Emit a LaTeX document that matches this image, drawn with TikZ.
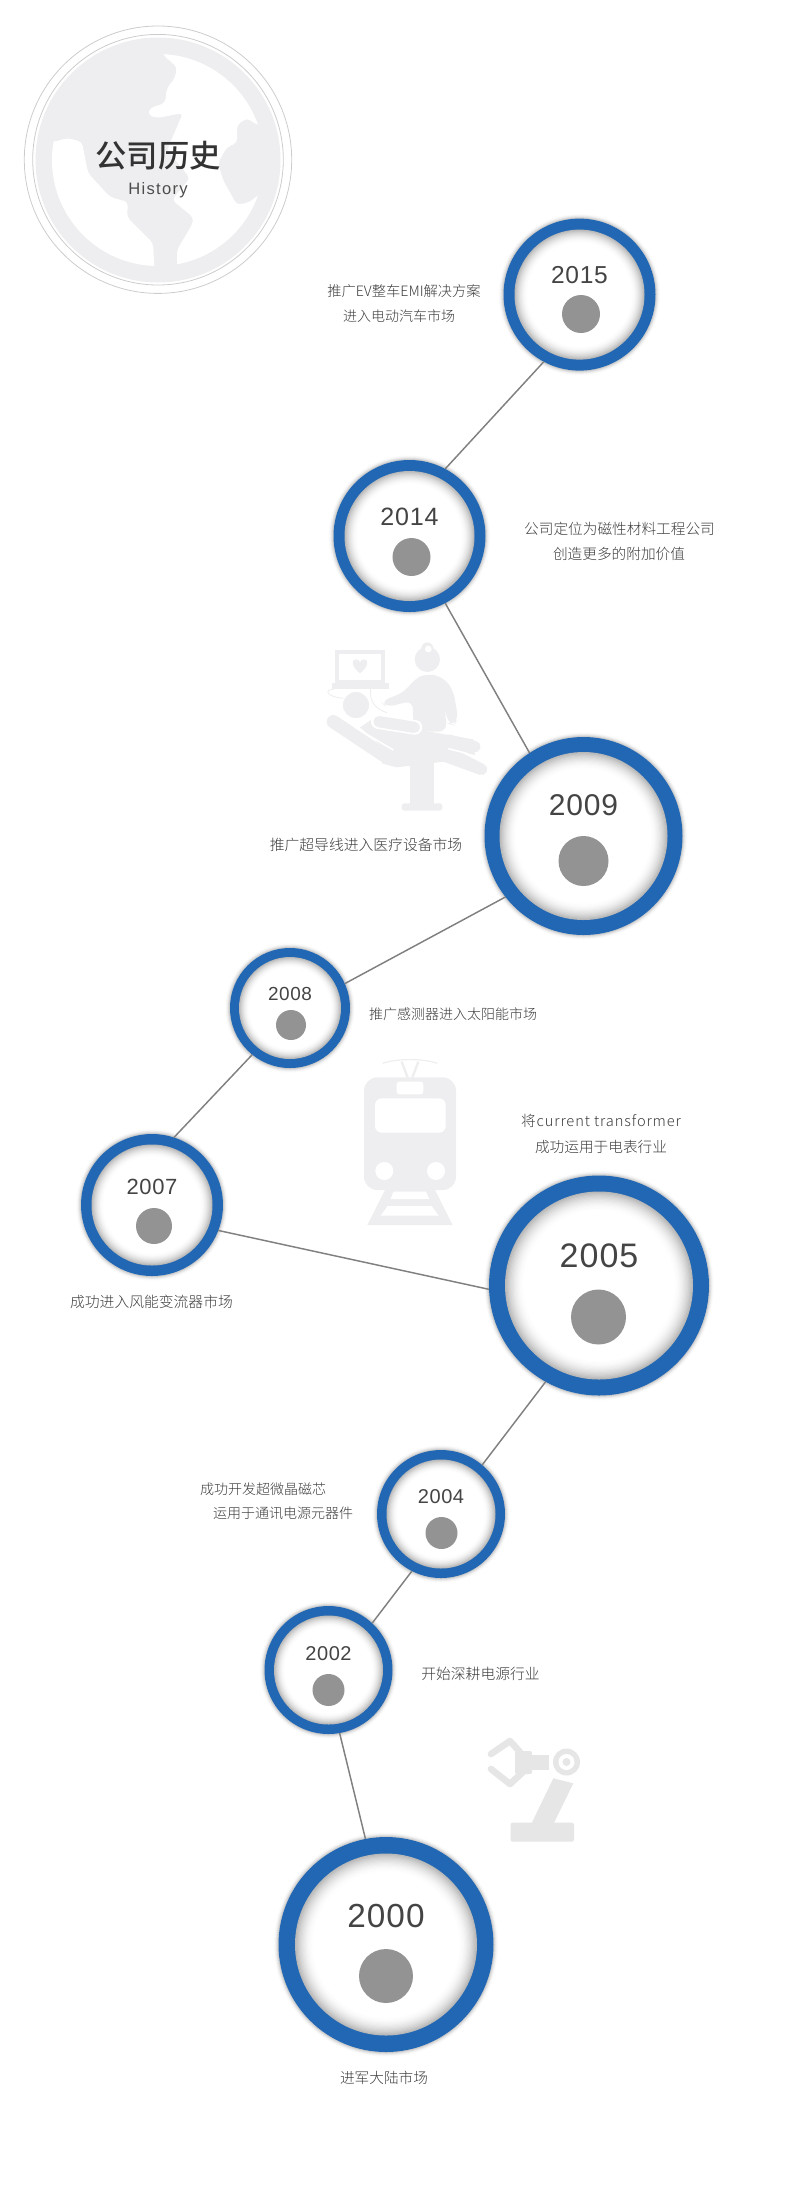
\documentclass[tikz,border=0pt]{standalone}
\usepackage{fontspec}
\setmainfont{Liberation Sans}
\newfontfamily\cjk{Noto Sans CJK SC Light}
\newfontfamily\cjktitle{Noto Sans CJK SC Medium}
\newfontfamily\cjkspaced[LetterSpace=6]{Noto Sans CJK SC Light}
\newfontfamily\yearfont[LetterSpace=3]{Liberation Sans}
\newfontfamily\histfont[LetterSpace=8]{Liberation Sans}
\definecolor{ringblue}{HTML}{2267B3}
\definecolor{dotgray}{HTML}{939393}
\definecolor{linegray}{HTML}{808080}
\definecolor{labelc}{HTML}{3C3C3C}
\definecolor{yearc}{HTML}{444444}
\definecolor{pale}{HTML}{EEEEF0}
\definecolor{palerobot}{HTML}{E6E6E6}
\definecolor{ringline}{HTML}{CCCCCC}
\newcommand{\lbl}[1]{\cjk\fontsize{#1}{#1}\selectfont}
\tikzset{
  ringnode/.style={circle,fill=ringblue,inner sep=0pt,outer sep=0pt},
  dotnode/.style={circle,fill=dotgray,inner sep=0pt,outer sep=0pt},
  yearnode/.style={inner sep=0pt,text=yearc},
  lab/.style={inner sep=0pt,text=labelc,font=\lbl{#1}},
  connector/.style={draw=linegray,line width=1.1pt},
  thinring/.style={draw=ringline,line width=0.6pt},
}
% year, cx, cy, R, r, text y, dot x and y, dot r, font pt
\newcommand{\yearring}[9]{%
  \foreach \i in {5,...,1}{
    \pgfmathsetmacro{\v}{20*((6-\i)/5)^2}
    \fill[black!\v!white] (#2,#3) circle[radius=(#4+\i)*0.75pt];
  }
  \node[ringnode,minimum size=#4*1.5pt] (c#1) at (#2,#3) {};
  \foreach \i in {0,...,15}{
    \pgfmathsetmacro{\v}{28*((16-\i)/16)^2}
    \fill[black!\v!white] (#2,#3) circle[radius=(#5-\i*#5*0.013)*0.75pt];
  }
  \node[dotnode,minimum size=#8*1.5pt] (d#1) at (#7) {};
  \node[yearnode,font=\yearfont\fontsize{#9}{#9}\selectfont] (y#1) at (#2,#6) {#1};
}
\begin{document}
\begin{tikzpicture}[x=0.75pt,y=-0.75pt]
\useasboundingbox (0,0) rectangle (785,2200);
% globe
\fill[pale] (158,160) circle[radius=122.5*0.75pt];
\begin{scope}
  \clip (158,160) circle[radius=106*0.75pt];
  \fill[white,rounded corners=3pt] (40,142) -- (53,142) -- (68,138) -- (82,142) -- (88,173) -- (110,197) -- (128,202) -- (127,217) -- (153,243) -- (155,280) -- (40,280) -- cycle;
  \fill[white,rounded corners=3pt] (163,40) -- (163,55) -- (177,67) -- (175,78) -- (167,88) -- (165,103) -- (150,108) -- (148,115) -- (157,118) -- (183,113) -- (167,150) -- (190,178) -- (172,200) -- (193,217) -- (193,223) -- (177,250) -- (177,285) -- (290,285) -- (290,192) -- (258,195) -- (250,202) -- (237,205) -- (223,180) -- (218,163) -- (227,147) -- (237,143) -- (237,125) -- (247,118) -- (257,125) -- (290,125) -- (290,40) -- cycle;
\end{scope}
\node[circle,thinring,minimum size=267.4*0.75pt,inner sep=0pt] (globeouter) at (158,159.7) {};
\node[circle,thinring,minimum size=250.6*0.75pt,inner sep=0pt] (globeinner) at (158,159.7) {};
\node[inner sep=0pt,text=black!80,font=\cjktitle\fontsize{23.5}{23.5}\selectfont] (title) at (158,156) {公司历史};
\node[inner sep=0pt,text=black!70,font=\histfont\fontsize{12.4}{12.4}\selectfont] (history) at (158,190) {History};

% doctor
\begin{scope}[shift={(310,640)},x=0.25pt,y=-0.25pt]
  \fill[pale] (75,30) rectangle (225,128);
  \fill[white] (88,42) rectangle (212,120);
  \fill[pale] (65,128) rectangle (238,147);
  \fill[pale] (150,100) .. controls (125,80) and (122,58) .. (138,58) .. controls (145,58) and (150,64) .. (150,68) .. controls (150,64) and (155,58) .. (162,58) .. controls (178,58) and (175,80) .. (150,100) -- cycle;
  \draw[pale,line width=0.7pt] (72,147) .. controls (40,150) and (50,170) .. (100,175);
  \draw[pale,line width=0.7pt] (182,147) .. controls (178,185) and (195,205) .. (230,218);
  \fill[pale] (352,25) circle[radius=18*0.25pt];
  \fill[pale] (352,58) circle[radius=38*0.25pt];
  \fill[white] (355,27) circle[radius=10*0.25pt];
  \fill[pale,rounded corners=6pt] (350,100) -- (400,112) -- (430,150) -- (445,240) -- (430,256) -- (413,250) -- (405,200) -- (410,275) -- (310,275) -- (308,182) -- (228,202) -- (212,185) -- (285,155) -- (312,118) -- cycle;
  % chair and patient
  \draw[pale,line width=10pt,line cap=round] (70,245) -- (235,355);
  \fill[pale] (150,262) -- (190,235) -- (330,270) -- (490,298) -- (495,345) -- (415,325) -- (520,372) -- (510,405) -- (400,365) -- (260,382) -- (215,370) -- (240,340) -- cycle;
  \draw[pale,line width=8.5pt,line cap=round] (415,300) -- (495,320);
  \draw[pale,line width=8.5pt,line cap=round] (430,345) -- (515,388);
  \draw[white,line width=1.2pt] (135,240) -- (135,262) -- (250,330);
  \draw[white,line width=1.2pt] (415,326) -- (470,340);
  \draw[white,line width=11pt,line cap=round] (205,245) -- (315,262);
  \draw[pale,line width=8.5pt,line cap=round] (207,245) -- (313,262);
  \fill[pale,draw=white,line width=0.8pt] (138,195) circle[radius=41*0.25pt];
  \fill[pale] (300,370) rectangle (372,495);
  \fill[pale,rounded corners=2pt] (275,490) rectangle (397,512);
\end{scope}

% train
\begin{scope}[shift={(340,1050)},x=0.25pt,y=-0.25pt]
  \draw[pale,line width=0.9pt] (128,40) .. controls (170,25) and (250,25) .. (292,40);
  \draw[pale,line width=1.8pt] (185,35) -- (205,88);
  \draw[pale,line width=1.8pt] (235,35) -- (215,88);
  \fill[pale] (135,420) -- (285,420) -- (338,525) -- (82,525) -- cycle;
  \fill[white] (160,425) -- (258,425) -- (268,447) -- (152,447) -- cycle;
  \fill[white] (143,468) -- (275,468) -- (296,497) -- (122,497) -- cycle;
  \fill[pale,rounded corners=10pt] (72,82) rectangle (348,420);
  \fill[white,rounded corners=5pt] (105,145) rectangle (317,248);
  \fill[white,rounded corners=2pt] (170,95) rectangle (250,133);
  \fill[white] (133,363) circle[radius=27*0.25pt];
  \fill[white] (288,363) circle[radius=27*0.25pt];
\end{scope}

% robot arm
\begin{scope}
  \fill[palerobot] (553.3,1778.3) -- (573.3,1783.3) -- (554,1823) -- (531.7,1823) -- cycle;
  \fill[palerobot,rounded corners=1.5pt] (510.7,1822.7) rectangle (574,1841.7);
  \fill[white] (566.5,1762) circle[radius=17*0.75pt];
  \fill[palerobot] (566.5,1762) circle[radius=13.5*0.75pt];
  \fill[white] (566.5,1762) circle[radius=8*0.75pt];
  \fill[palerobot] (566.5,1762) circle[radius=4*0.75pt];
  \fill[palerobot] (531,1755) rectangle (549,1770);
  \fill[palerobot,rounded corners=1.5pt] (515,1751) rectangle (532,1774);
  \draw[palerobot,line width=5pt,line cap=round,line join=round] (491,1754) -- (510,1741) -- (520,1752);
  \draw[palerobot,line width=5pt,line cap=round,line join=round] (491,1769) -- (510,1784) -- (524,1771);
\end{scope}

% rings
\yearring{2015}{579.5}{294.6}{76}{65}{275}{581,314}{19}{18.4}
\yearring{2014}{409.5}{536}{76}{65}{517}{411.5,557}{19}{18.8}
\yearring{2009}{583.5}{836}{99}{84}{805}{583.5,861}{25}{22.5}
\yearring{2008}{290}{1008}{60}{51}{994}{291,1025}{15}{14.2}
\yearring{2007}{152}{1205}{71}{60.5}{1187}{154,1226}{18}{16.5}
\yearring{2005}{599}{1285.5}{110}{94}{1256}{598.5,1317}{27.5}{25.5}
\yearring{2004}{441}{1514}{64}{54.5}{1497}{441.5,1533}{16}{15}
\yearring{2002}{328.5}{1670}{64}{54.5}{1654}{328.5,1690}{16}{15}
\yearring{2000}{386}{1944.5}{107.5}{91}{1916}{386,1976}{27}{25}

% connectors
\draw[connector] (c2015.-118.9) -- (c2014.62.4);
\draw[connector] (c2014.-62.6) -- (c2009.123.5);
\draw[connector] (c2009.-142.1) -- (c2008.24.5);
\draw[connector] (c2008.-129.8) -- (c2007.72.3);
\draw[connector] (c2007.-21.9) -- (c2005.182.3);
\draw[connector] (c2005.-119.6) -- (c2004.50);
\draw[connector] (c2004.-117.8) -- (c2002.47.6);
\draw[connector] (c2002.-80.8) -- (c2000.101.1);

% labels
\node[lab=10.7] (t2015a) at (404,291) {推广EV整车EMI解决方案};
\node[lab=10.5] (t2015b) at (399,316) {进入电动汽车市场};
\node[lab=11] (t2014a) at (619.5,528.6) {公司定位为磁性材料工程公司};
\node[lab=11] (t2014b) at (619,553.6) {创造更多的附加价值};
\node[lab=11.1] (t2009) at (366,845) {推广超导线进入医疗设备市场};
\node[lab=10.5] (t2008) at (453,1014) {推广感测器进入太阳能市场};
\node[inner sep=0pt,text=labelc,font=\cjkspaced\fontsize{11}{11}\selectfont] (t2005a) at (601,1121) {将current transformer};
\node[lab=11] (t2005b) at (601,1147) {成功运用于电表行业};
\node[lab=11.1] (t2007) at (151.5,1302) {成功进入风能变流器市场};
\node[lab=10.5] (t2004a) at (263,1489) {成功开发超微晶磁芯};
\node[lab=10.5] (t2004b) at (283,1513.6) {运用于通讯电源元器件};
\node[lab=11.1] (t2002) at (480.5,1674) {开始深耕电源行业};
\node[lab=11] (t2000) at (384,2078) {进军大陆市场};
\end{tikzpicture}
\end{document}
